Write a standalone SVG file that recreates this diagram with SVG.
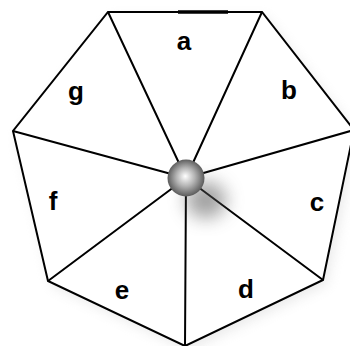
<svg xmlns="http://www.w3.org/2000/svg" width="350" height="346" viewBox="0 0 350 346">
<defs>
<style>
.edge{fill:none;stroke:#000;stroke-width:2;stroke-linejoin:miter}
.lbl{font-family:"Liberation Sans",Arial,sans-serif;font-weight:bold;font-size:26px;fill:#000;text-anchor:middle}
.face{fill:#fff}
</style>
<radialGradient id="ball" cx="0.5" cy="0.5" r="0.55" fx="0.48" fy="0.45">
<stop offset="0" stop-color="#ffffff"/>
<stop offset="0.45" stop-color="#b4b4b4"/>
<stop offset="1" stop-color="#4a4a4a"/>
</radialGradient>
<filter id="blur" x="-50%" y="-50%" width="200%" height="200%"><feGaussianBlur stdDeviation="9"/></filter>
<filter id="blur2" x="-20%" y="-20%" width="140%" height="140%"><feGaussianBlur stdDeviation="6"/></filter>
</defs>
<rect width="350" height="346" fill="#fff"/>
<polygon points="108,12 262,12 354,130 323,280 185,346 48,281 13,131" fill="#c8c8c8" opacity="0.35" transform="translate(4,5)" filter="url(#blur2)"/>
<polygon points="108,12 262,12 354,130 323,280 185,346 48,281 13,131" fill="#fff"/>
<g id="a"><polygon class="face" points="186,178 108,12 262,12"/><text class="lbl" x="184" y="50">a</text></g>
<g id="b"><polygon class="face" points="186,178 262,12 354,130"/><text class="lbl" x="289" y="99">b</text></g>
<g id="c"><polygon class="face" points="186,178 354,130 323,280"/><text class="lbl" x="317" y="211">c</text></g>
<g id="d"><polygon class="face" points="186,178 323,280 185,346"/><text class="lbl" x="246" y="298">d</text></g>
<g id="e"><polygon class="face" points="186,178 185,346 48,281"/><text class="lbl" x="122" y="299">e</text></g>
<g id="f"><polygon class="face" points="186,178 48,281 13,131"/><text class="lbl" x="53" y="210">f</text></g>
<g id="g"><polygon class="face" points="186,178 13,131 108,12"/><text class="lbl" x="76" y="100">g</text></g>
<g id="connectors">
<polygon class="edge" points="108,12 262,12 354,130 323,280 185,346 48,281 13,131"/>
<line x1="178" y1="12" x2="228" y2="12" stroke="#000" stroke-width="3.5"/>
<path class="edge" d="M186,178 L108,12 M186,178 L262,12 M186,178 L354,130 M186,178 L323,280 M186,178 L185,346 M186,178 L48,281 M186,178 L13,131"/>
</g>
<g id="hub">
<ellipse cx="206" cy="200" rx="20" ry="18" fill="#555" opacity="0.55" filter="url(#blur)"/>
<circle cx="186" cy="178" r="18.5" fill="url(#ball)"/>
</g>
</svg>
